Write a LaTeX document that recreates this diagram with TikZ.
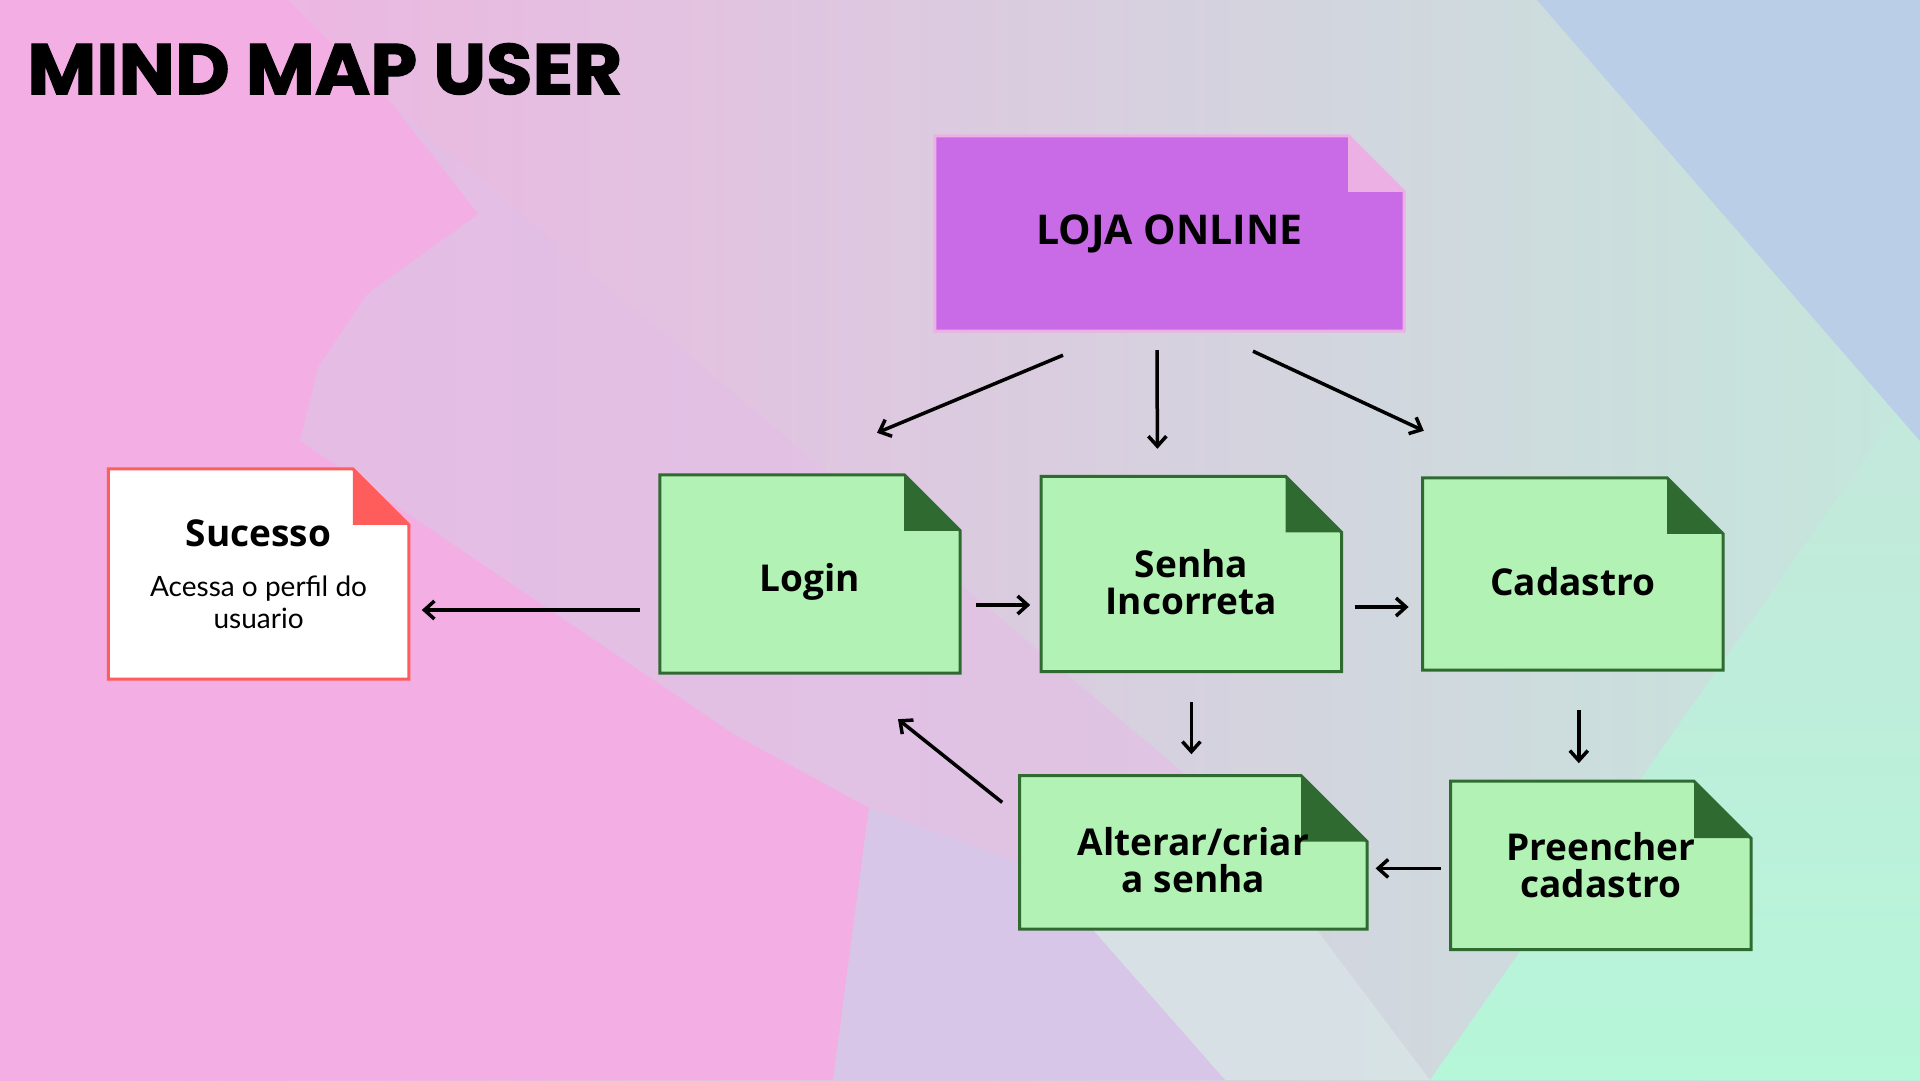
\documentclass[tikz,border=0pt]{standalone}
\usepackage{fontspec}
\setmainfont{Open Sans}
\newfontfamily\subfont{Lato}
\newfontfamily\titlefont{Poppins}[FakeBold=1.5]
\usetikzlibrary{positioning,arrows.meta}

\pgfdeclarelayer{scene}
\pgfdeclarelayer{paper}
\pgfsetlayers{scene,paper,main}

\definecolor{leaf}{HTML}{B3F2B5}
\definecolor{leafedge}{HTML}{2F6B31}
\definecolor{lojafill}{HTML}{C96BE6}
\definecolor{lojaedge}{HTML}{EDB0E4}
\definecolor{sucedge}{HTML}{FF5C5C}
\definecolor{bgpink}{HTML}{F3AEE3}
\definecolor{bggrey}{HTML}{D8CFDF}
\definecolor{bgmint}{HTML}{C4E7DC}
\definecolor{bgmauve}{HTML}{E3BFE6}
\definecolor{bglav}{HTML}{D7C6E7}
\definecolor{bgblue}{HTML}{BACEE8}
\definecolor{bggreen}{HTML}{B6F6D9}
\definecolor{bgpale}{HTML}{D6E9E6}

% invisible strut that lowers a card label a little
\newcommand\cardtop{\rule{0pt}{44pt}}

\begin{document}
\begin{tikzpicture}[x=1pt, y=-1pt,
    card/.style={rectangle, inner sep=0pt, align=center, minimum width=300pt, font=\fontsize{37pt}{37pt}\selectfont\bfseries},
    arrow/.style={-{Straight Barb[length=10pt,width=18pt]}, line width=3.5pt, black}
]
    \useasboundingbox (0,0) rectangle (1920,1080);

    % background
    \begin{pgfonlayer}{scene}
        \shade[left color=bgpink, middle color=bggrey, right color=bgmint] (0,0) rectangle (1920,1080);
        \fill[bgmauve, opacity=0.7] (392,104) -- (1225,808) -- (1430,1080) -- (833,1080) -- (869,808) -- (735,735) -- (300,441) -- (318,367) -- (367,294) -- (478,214) -- cycle;
        \fill[bgpink] (0,0) -- (288,0) -- (392,104) -- (478,214) -- (367,294) -- (318,367) -- (300,441) -- (735,735) -- (869,808) -- (833,1080) -- (0,1080) -- cycle;
        \fill[bgpale, opacity=0.8] (1225,808) -- (1430,1080) -- (1225,1080) -- (1040,870) -- cycle;
        \fill[bglav] (869,808) -- (1040,870) -- (1225,1080) -- (833,1080) -- cycle;
        \shade[top color=bgmint, bottom color=bggreen] (1430,1080) -- (1920,380) -- (1920,1080) -- cycle;
        \fill[bgblue] (1537,0) -- (1920,0) -- (1920,441) -- cycle;
    \end{pgfonlayer}

    \node[anchor=north west, inner sep=0pt] (title) at (27,43) {\resizebox{595pt}{51pt}{\titlefont\bfseries MIND MAP USER}};

    \node[card, minimum width=469pt, minimum height=195pt, font=\fontsize{41pt}{41pt}\selectfont\bfseries] (loja) at (1169.5,233.5) {LOJA ONLINE};
    \node[card, minimum height=198pt] (login) at (810,574) {\cardtop Login};
    \node[card, minimum height=195pt, right=81pt of login] (senha) {\cardtop Senha\\Incorreta};
    \node[card, minimum height=192pt, right=81pt of senha] (cad) {\cardtop Cadastro};
    \node[card, minimum width=347pt, minimum height=153pt, below=104pt of senha, xshift=2pt] (alt) {\cardtop Alterar/criar\\a senha};
    \node[card, minimum height=168pt, below=111pt of cad, xshift=28pt] (pre) {Preencher\\cadastro};
    \node[card, minimum height=210pt, left=251pt of login, font=\subfont\fontsize{28pt}{32pt}\selectfont] (suc) {{\rmfamily\bfseries\fontsize{37pt}{37pt}\selectfont Sucesso}\\[18pt]Acessa o perfil do\\usuario};

    % folded paper behind each card
    \begin{pgfonlayer}{paper}
        \foreach \n/\f/\pf/\pr/\pe in {loja/56/lojafill/lojaedge/lojaedge, suc/56/white/sucedge/sucedge, login/56/leaf/leafedge/leafedge, senha/56/leaf/leafedge/leafedge, cad/56/leaf/leafedge/leafedge, alt/66/leaf/leafedge/leafedge, pre/57/leaf/leafedge/leafedge}{
            \filldraw[fill=\pf, draw=\pr, line width=3pt] (\n.north west) -- ([xshift=-\f pt]\n.north east) -- ([yshift=-\f pt]\n.north east) -- (\n.south east) -- (\n.south west) -- cycle;
            \fill[\pe] ([xshift=-\f pt]\n.north east) -- ([xshift=-\f pt, yshift=-\f pt]\n.north east) -- ([yshift=-\f pt]\n.north east) -- cycle;
        }
    \end{pgfonlayer}

    \draw[arrow] ([shift={(-106.5,24)}]loja.south) -- ([shift={(67,-42)}]login.north);
    \draw[arrow] ([shift={(-12.5,19)}]loja.south) -- ([shift={(-34,-27.5)}]senha.north);
    \draw[arrow] ([shift={(83.5,20)}]loja.south) -- ([shift={(-149,-47)}]cad.north);
    \draw[arrow] ([shift={(-20,36)}]login.west) -- ([shift={(13,36)}]suc.east);
    \draw[arrow] ([shift={(16,31)}]login.east) -- ([shift={(-11,31)}]senha.west);
    \draw[arrow] ([shift={(13,33)}]senha.east) -- ([shift={(-14,33)}]cad.west);
    \draw[arrow] ([shift={(0,30.5)}]senha.south) -- ([shift={(-2,-21.5)}]alt.north);
    \draw[arrow] ([shift={(6,40)}]cad.south) -- ([shift={(-22,-18)}]pre.north);
    \draw[arrow] ([shift={(-10,3)}]pre.west) -- ([shift={(8.5,16)}]alt.east);
    \draw[arrow] ([shift={(-17.5,-50)}]alt.west) -- ([shift={(88,46)}]login.south);
\end{tikzpicture}
\end{document}
